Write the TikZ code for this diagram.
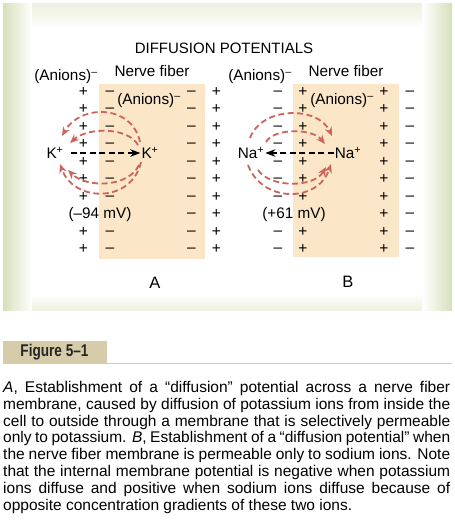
\documentclass[tikz,border=0pt]{standalone}
\usepackage{fontspec}
\setmainfont{Liberation Sans}
\usetikzlibrary{arrows.meta}
\definecolor{peach}{RGB}{252,230,200}
\definecolor{arcred}{RGB}{204,100,92}
\definecolor{frameL}{RGB}{236,240,222}
\definecolor{frameD}{RGB}{214,224,186}
\definecolor{tanbox}{RGB}{214,204,170}
\definecolor{tanline}{RGB}{210,202,172}
\begin{document}
\begin{tikzpicture}[x=1pt,y=-1pt,
  lbl/.style={inner sep=0pt, font=\fontsize{15.3}{17}\selectfont},
  sgn/.style={inner sep=0pt, font=\fontsize{15.5}{17}\selectfont},
  ion/.style={inner sep=1pt, font=\fontsize{15.3}{17}\selectfont},
  ionarc/.style={arcred, line width=1.8pt, dash pattern=on 6pt off 3.5pt, -{Stealth[length=9pt,width=7.5pt]}},
  ionarrow/.style={black, line width=1.6pt, dash pattern=on 6pt off 3.5pt, -{Stealth[length=10pt,width=7.5pt]}},
  fiber/.style={fill=peach, draw=none}]
\useasboundingbox (0,0) rectangle (455,520);
\fill[white] (0,0) rectangle (455,520);
% frame
\fill[frameL] (3,3) rectangle (452,310);
\shade[left color=frameD, right color=white] (3,3) rectangle (32,310);
\shade[left color=white, right color=frameD] (422,3) rectangle (452,310);
\shade[top color=white, bottom color=frameL] (32,294) rectangle (422,310);
\shade[top color=frameL, bottom color=white] (32,3) rectangle (422,29);
\fill[white] (32,29) rectangle (422,294);
% title
\node[inner sep=0pt, font=\fontsize{15}{18}\selectfont] (title) at (224,48) {DIFFUSION POTENTIALS};
% fibers
\fill[fiber] (99,84) rectangle (205,259);
\fill[fiber] (293,84) rectangle (399,257);
% top labels
\node[lbl] (anA) at (66,77) {(Anions)\textsuperscript{–}};
\node[lbl] (nfA) at (152,71) {Nerve fiber};
\node[lbl] (anB) at (260,77) {(Anions)\textsuperscript{–}};
\node[lbl] (nfB) at (346,71) {Nerve fiber};
\node[lbl] (aninA) at (149,101) {(Anions)\textsuperscript{–}};
\node[lbl] (aninB) at (342,101) {(Anions)\textsuperscript{–}};
% signs panel A
\foreach \i in {0,1,2,3,4,5,6,8,9}{
  \node[sgn] (aLp\i) at (83.5,{92+17.5*\i}) {+};
  \node[sgn] (aLm\i) at (110,{93+17.5*\i}) {–};
}
\foreach \i in {0,...,9}{
  \node[sgn] (aRm\i) at (191.5,{93+17.5*\i}) {–};
  \node[sgn] (aRp\i) at (216.5,{92+17.5*\i}) {+};
}
% signs panel B
\foreach \i in {0,1,2,3,4,5,6,8,9}{
  \node[sgn] (bLm\i) at (278,{93+17.5*\i}) {–};
  \node[sgn] (bLp\i) at (303,{92+17.5*\i}) {+};
}
\foreach \i in {0,...,9}{
  \node[sgn] (bRp\i) at (384,{92+17.5*\i}) {+};
  \node[sgn] (bRm\i) at (410,{93+17.5*\i}) {–};
}
% potentials
\node[lbl] (mvA) at (100,215) {(–94 mV)};
\node[lbl] (mvB) at (294,215) {(+61 mV)};
% ions
\node[ion] (Kout) at (55,153) {K\textsuperscript{+}};
\node[ion] (Kin) at (150,153) {K\textsuperscript{+}};
\node[ion] (Naout) at (251,153) {Na\textsuperscript{+}};
\node[ion] (Nain) at (348,153) {Na\textsuperscript{+}};
\draw[ionarrow] (Kout.east) ++(6,0) coordinate (kA) (kA) -- (Kin.west);
\draw[ionarrow] (Nain.west) -- (Naout.east);
% arcs A
\coordinate (a1s) at (140,142); \coordinate (a1e) at (62,136);
\coordinate (a2s) at (138,145); \coordinate (a2e) at (70,143);
\coordinate (a3s) at (141,162); \coordinate (a3e) at (60,164);
\coordinate (a4s) at (139,165); \coordinate (a4e) at (68,170);
\draw[ionarc] (a1s) .. controls (132,104) and (80,104) .. (a1e);
\draw[ionarc] (a2s) .. controls (128,127) and (88,127) .. (a2e);
\draw[ionarc] (a3s) .. controls (132,203) and (74,203) .. (a3e);
\draw[ionarc] (a4s) .. controls (128,188) and (86,188) .. (a4e);
% arcs B
\coordinate (b1s) at (250,138); \coordinate (b1e) at (332,136);
\coordinate (b2s) at (266,142); \coordinate (b2e) at (325,144);
\coordinate (b3s) at (248,165); \coordinate (b3e) at (331,164);
\coordinate (b4s) at (258,170); \coordinate (b4e) at (326,167);
\draw[ionarc] (b1s) .. controls (262,106) and (318,106) .. (b1e);
\draw[ionarc] (b2s) .. controls (274,128) and (312,128) .. (b2e);
\draw[ionarc] (b3s) .. controls (262,203) and (318,203) .. (b3e);
\draw[ionarc] (b4s) .. controls (270,188) and (314,188) .. (b4e);
% panel letters
\node[inner sep=0pt, font=\fontsize{16.5}{18}\selectfont] (lA) at (155,283) {A};
\node[inner sep=0pt, font=\fontsize{16.5}{18}\selectfont] (lB) at (348,282) {B};
% caption header
\fill[tanbox] (3,341) rectangle (107,364);
\draw[tanline, line width=1pt] (107,363.5) -- (452,363.5);
\node[inner sep=0pt, font=\fontsize{17}{20}\bfseries\selectfont, text=black!85] (fig) at (54.5,352.5) {\scalebox{0.8}[1]{Figure 5–1}};
% caption text
\node[anchor=north west, inner sep=0pt, text width=447pt, align=justify,
      font=\fontsize{15.5}{16.8}\selectfont] (cap) at (3,381) {%
\textit{A}, Establishment of a “diffusion” potential across a nerve fiber\linebreak
membrane, caused by diffusion of potassium ions from inside the\linebreak
cell to outside through a membrane that is selectively permeable\linebreak
only to potassium. \textit{B}, Establishment of a “diffusion potential” when\linebreak
the nerve fiber membrane is permeable only to sodium ions. Note\linebreak
that the internal membrane potential is negative when potassium\linebreak
ions diffuse and positive when sodium ions diffuse because of\linebreak
opposite concentration gradients of these two ions.};
\end{tikzpicture}
\end{document}
